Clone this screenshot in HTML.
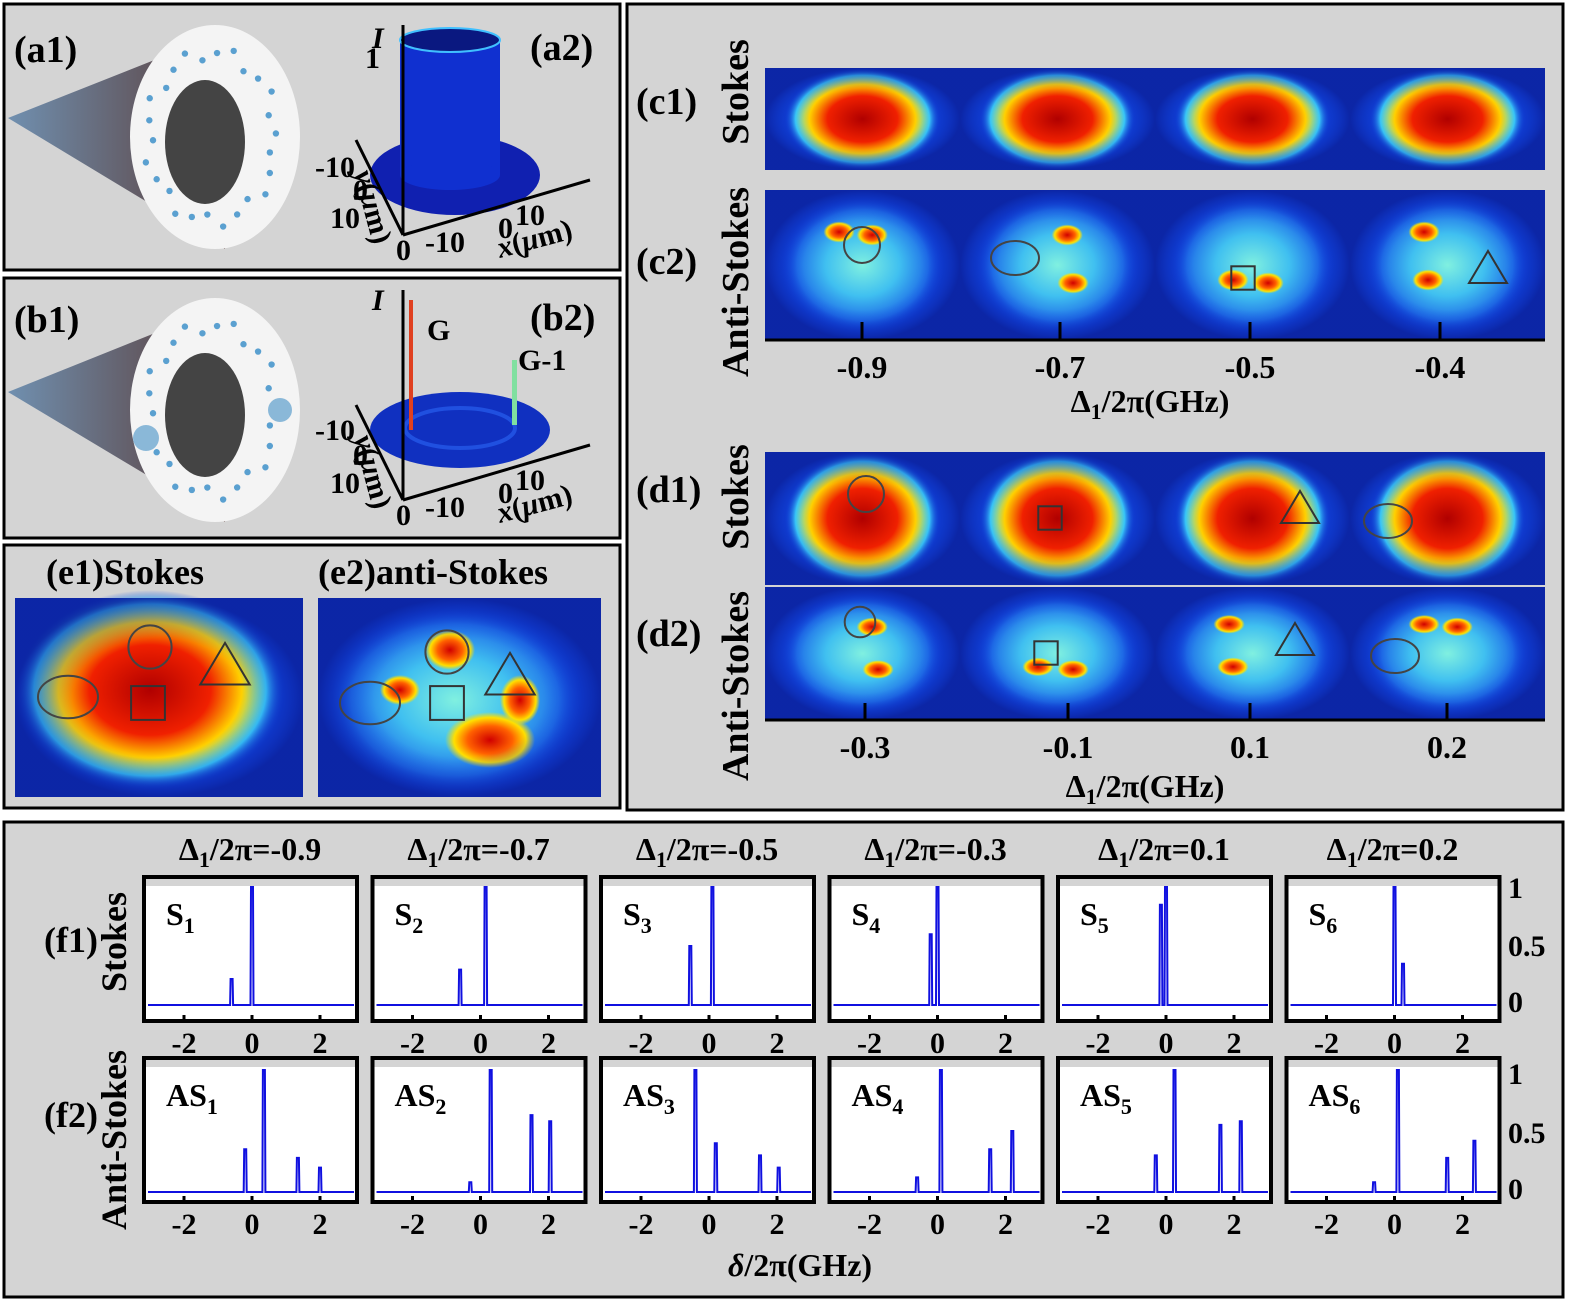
<!DOCTYPE html>
<html><head><meta charset="utf-8"><style>
html,body{margin:0;padding:0;background:#fff;}
svg{display:block;font-family:"Liberation Serif",serif;font-weight:bold;}
</style></head><body>
<svg id="s" width="1575" height="1304" viewBox="0 0 1575 1304" xmlns="http://www.w3.org/2000/svg">
<defs>
<radialGradient id="hs"><stop offset="0" stop-color="#b00000"/><stop offset="0.45" stop-color="#f02000"/><stop offset="0.68" stop-color="#ffd000"/><stop offset="0.86" stop-color="#40e0ff"/><stop offset="1" stop-color="#1040e0" stop-opacity="0"/></radialGradient>
<radialGradient id="ha"><stop offset="0" stop-color="#80f0e0"/><stop offset="0.45" stop-color="#40c0f0"/><stop offset="0.8" stop-color="#2070e8"/><stop offset="1" stop-color="#1040e0" stop-opacity="0"/></radialGradient>
<radialGradient id="hr"><stop offset="0" stop-color="#d00000"/><stop offset="0.5" stop-color="#ff6000"/><stop offset="0.8" stop-color="#ffe000"/><stop offset="1" stop-color="#ffe000" stop-opacity="0"/></radialGradient>
<radialGradient id="hb"><stop offset="0.6" stop-color="#1040e0" stop-opacity="0"/><stop offset="1" stop-color="#0a1a90"/></radialGradient>
<linearGradient id="cone" x1="0" y1="0" x2="1" y2="0"><stop offset="0" stop-color="#7090b0"/><stop offset="1" stop-color="#5a3a35"/></linearGradient>
</defs>
<rect width="1575" height="1304" fill="#fff"/>
<g fill="#d4d4d4" stroke="#000" stroke-width="3">
<rect x="4" y="4" width="616" height="266"/>
<rect x="4" y="278" width="616" height="260"/>
<rect x="4" y="545" width="616" height="263"/>
<rect x="627" y="4" width="936" height="806"/>
<rect x="4" y="822" width="1559" height="475"/>
</g>
<g id="dyn"></g>
</svg>
<script>
const g=document.getElementById('dyn');let h='';
function T(x,y,s,t,extra){h+=`<text x="${x}" y="${y}" font-size="${s}" ${extra||''}>${t}</text>`;}
function cone(y0,cy){
 h+=`<polygon points="8,${y0} 225,${cy-105} 225,${cy+112}" fill="url(#cone)"/>`;
 h+=`<ellipse cx="215" cy="${cy}" rx="85" ry="112" fill="#f4f4f4"/>`;
 h+=`<ellipse cx="205" cy="${cy+5}" rx="40" ry="62" fill="#444"/>`;
 for(let i=0;i<26;i++){const a=i/26*6.283+0.2;const r=0.72+0.12*((i*7)%3)/2;h+=`<circle cx="${212+82*r*Math.cos(a)}" cy="${cy+108*r*Math.sin(a)}" r="3.2" fill="#5aa0d0"/>`;}
}
cone(118,137);cone(392,410);
T(14,62,38,'(a1)');T(530,60,38,'(a2)');T(14,332,38,'(b1)');T(530,330,38,'(b2)');
h+=`<ellipse cx="455" cy="175" rx="85" ry="40" fill="#1020b0"/><rect x="400" y="40" width="100" height="135" fill="#1030d0"/><ellipse cx="450" cy="175" rx="50" ry="15" fill="#1030d0"/><ellipse cx="450" cy="40" rx="50" ry="12" fill="#0a1880" stroke="#40c0ff" stroke-width="2"/>`;
function axes(y0){h+=`<g stroke="#000" stroke-width="3" fill="none"><line x1="403" y1="${y0}" x2="403" y2="${y0-210}"/><line x1="403" y1="${y0}" x2="590" y2="${y0-55}"/><line x1="403" y1="${y0}" x2="356" y2="${y0-95}"/></g>`;}
axes(235);
T(372,48,30,'I','font-style="italic"');T(365,68,30,'1');T(315,177,30,'-10');T(353,200,30,'0');T(330,228,30,'10');T(396,260,30,'0');T(425,252,30,'-10');T(498,238,30,'0');T(515,225,30,'10');
T(500,258,30,'<tspan font-style="italic">x</tspan>(<tspan font-style="italic">μ</tspan>m)','transform="rotate(-15 500 258)"');
T(310,170,30,'<tspan font-style="italic">y</tspan>(<tspan font-style="italic">μ</tspan>m)','transform="rotate(75 330 200)"');
h+=`<ellipse cx="460" cy="430" rx="90" ry="38" fill="#1030c0"/><ellipse cx="460" cy="428" rx="55" ry="20" fill="none" stroke="#2050e0" stroke-width="4"/><rect x="409" y="300" width="4" height="130" fill="#e04020"/><rect x="512" y="360" width="5" height="65" fill="#80e0a0"/>`;
axes(500);
T(372,310,30,'I','font-style="italic"');T(427,340,30,'G');T(518,370,30,'G-1');T(315,440,30,'-10');T(353,465,30,'0');T(330,493,30,'10');T(396,525,30,'0');T(425,517,30,'-10');T(498,503,30,'0');T(515,490,30,'10');
T(500,523,30,'<tspan font-style="italic">x</tspan>(<tspan font-style="italic">μ</tspan>m)','transform="rotate(-15 500 523)"');
T(310,435,30,'<tspan font-style="italic">y</tspan>(<tspan font-style="italic">μ</tspan>m)','transform="rotate(75 330 465)"');
h+=`<circle cx="146" cy="438" r="13" fill="#8ab8d8"/><circle cx="280" cy="410" r="12" fill="#8ab8d8"/>`;
function tile(x,y,w,hh,type,seed){
 h+=`<rect x="${x}" y="${y}" width="${w}" height="${hh}" fill="#1040d8"/>`;
 const cx=x+w/2,cy=y+hh/2;
 if(type=='s'){h+=`<ellipse cx="${cx}" cy="${cy}" rx="${w*0.4}" ry="${hh*0.5}" fill="url(#hs)"/>`;}
 else{h+=`<ellipse cx="${cx}" cy="${cy}" rx="${w*0.42}" ry="${hh*0.46}" fill="url(#ha)"/>`;
  const px=[[-.12,-.22],[.05,-.2],[.08,.12],[-.1,.1]];
  for(let i=0;i<2;i++){const p=px[(i+seed)%4];h+=`<ellipse cx="${cx+p[0]*w}" cy="${cy+p[1]*hh}" rx="${w*0.08}" ry="${hh*0.07}" fill="url(#hr)"/>`;}}
 h+=`<rect x="${x}" y="${y}" width="${w}" height="${hh}" fill="url(#hb)" opacity="0.7"/>`;
}
function shp(kind,x,y,s){s=s||1;
 if(kind=='c')h+=`<circle cx="${x}" cy="${y}" r="${18*s}" fill="none" stroke="#444" stroke-width="2"/>`;
 if(kind=='e')h+=`<ellipse cx="${x}" cy="${y}" rx="${24*s}" ry="${17*s}" fill="none" stroke="#444" stroke-width="2"/>`;
 if(kind=='r')h+=`<rect x="${x-13*s}" y="${y-13*s}" width="${26*s}" height="${26*s}" fill="none" stroke="#333" stroke-width="2"/>`;
 if(kind=='t')h+=`<polygon points="${x},${y-17*s} ${x+19*s},${y+15*s} ${x-19*s},${y+15*s}" fill="none" stroke="#333" stroke-width="2"/>`;
}
const tx=[765,960,1155,1350];
for(let i=0;i<4;i++){tile(tx[i],68,195,102,'s',0);tile(tx[i],190,195,150,'a',i);tile(tx[i],452,195,133,'s',0);tile(tx[i],587,195,133,'a',i+1);}
shp('c',862,245);shp('e',1015,258);shp('r',1243,278,0.9);shp('t',1488,268);
shp('c',866,494);shp('r',1050,518,0.9);shp('t',1300,508);shp('e',1388,521);
shp('c',860,622,0.85);shp('r',1046,653,0.9);shp('t',1295,640);shp('e',1395,656);
h+=`<g stroke="#000" stroke-width="3"><line x1="765" y1="340" x2="1545" y2="340"/><line x1="765" y1="720" x2="1545" y2="720"/>`;
[862,1060,1250,1440].forEach(x=>h+=`<line x1="${x}" y1="322" x2="${x}" y2="340"/>`);
[865,1068,1250,1447].forEach(x=>h+=`<line x1="${x}" y1="703" x2="${x}" y2="720"/>`);h+='</g>';
[['-0.9',862],['-0.7',1060],['-0.5',1250],['-0.4',1440]].forEach(a=>T(a[1],378,32,a[0],'text-anchor="middle"'));
[['-0.3',865],['-0.1',1068],['0.1',1250],['0.2',1447]].forEach(a=>T(a[1],758,32,a[0],'text-anchor="middle"'));
T(1150,412,32,'Δ<tspan font-size="22" dy="7">1</tspan><tspan dy="-7">/2π(GHz)</tspan>','text-anchor="middle"');
T(1145,797,32,'Δ<tspan font-size="22" dy="7">1</tspan><tspan dy="-7">/2π(GHz)</tspan>','text-anchor="middle"');
T(636,114,38,'(c1)');T(636,274,38,'(c2)');T(636,502,38,'(d1)');T(636,646,38,'(d2)');
function vt(x,y,t,s){T(x,y,s||38,t,`text-anchor="middle" transform="rotate(-90 ${x} ${y})"`);}
vt(748,92,'Stokes');vt(748,282,'Anti-Stokes');vt(748,497,'Stokes');vt(748,686,'Anti-Stokes');
h+=`<rect x="15" y="598" width="288" height="199" fill="#1040d8"/><ellipse cx="150" cy="690" rx="135" ry="100" fill="url(#hs)"/><rect x="15" y="598" width="288" height="199" fill="url(#hb)" opacity="0.7"/>`;
h+=`<rect x="318" y="598" width="283" height="199" fill="#1040d8"/><ellipse cx="455" cy="700" rx="130" ry="95" fill="url(#ha)"/><ellipse cx="450" cy="650" rx="25" ry="20" fill="url(#hr)"/><ellipse cx="490" cy="740" rx="45" ry="28" fill="url(#hr)"/><ellipse cx="400" cy="690" rx="20" ry="15" fill="url(#hr)"/><ellipse cx="520" cy="700" rx="20" ry="25" fill="url(#hr)"/><rect x="318" y="598" width="283" height="199" fill="url(#hb)" opacity="0.7"/>`;
shp('c',150,647,1.2);shp('r',148,703,1.3);shp('t',225,665,1.3);shp('e',68,697,1.25);
shp('c',447,652,1.2);shp('r',447,703,1.3);shp('t',510,675,1.3);shp('e',370,703,1.25);
T(46,584,36,'(e1)Stokes');T(318,584,36,'(e2)anti-Stokes');
const ttl=['-0.9','-0.7','-0.5','-0.3','0.1','0.2'];
const P1=[[[-0.6,.22],[0,1]],[[-0.6,.3],[0.15,1]],[[-0.55,.5],[0.1,1]],[[-0.2,.6],[0,1]],[[-0.15,.85],[0,1]],[[0,1],[0.25,.35]]];
const P2=[[[-0.2,.35],[0.35,1],[1.35,.28],[2,.2]],[[-0.3,.08],[0.3,1],[1.5,.63],[2.05,.58]],[[-0.4,1],[0.2,.4],[1.5,.3],[2.05,.2]],[[-0.6,.12],[0.1,1],[1.55,.35],[2.2,.5]],[[-0.3,.3],[0.25,1],[1.6,.55],[2.2,.58]],[[-0.6,.08],[0.1,1],[1.55,.28],[2.35,.42]]];
function plot(x0,y0,y1,base,top,peaks,lab){
 h+=`<rect x="${x0}" y="${y0}" width="213" height="${y1-y0}" fill="#fff"/><rect x="${x0}" y="${y0}" width="213" height="9" fill="#d4d4d4"/>`;
 const zx=x0+108,k=34,L=base-top;
 let d=`M${x0+4},${base}`;
 peaks.sort((a,b)=>a[0]-b[0]).forEach(p=>{const px=zx+p[0]*k;d+=` L${px-1.5},${base} L${px-1},${base-p[1]*L} L${px+1},${base-p[1]*L} L${px+1.5},${base}`;});
 d+=` L${x0+210},${base}`;
 h+=`<path d="${d}" fill="none" stroke="#1010e0" stroke-width="2"/>`;
 h+=`<rect x="${x0}" y="${y0}" width="213" height="${y1-y0}" fill="none" stroke="#000" stroke-width="4"/>`;
 [-2,0,2].forEach(v=>{const px=zx+v*k;h+=`<line x1="${px}" y1="${y1}" x2="${px}" y2="${y1-6}" stroke="#000" stroke-width="3"/>`;T(px,y1+32,30,v==-2?'-2':v,'text-anchor="middle"');});
 T(x0+22,y0+48,32,lab);
}
for(let i=0;i<6;i++){const x0=144+i*228.5;
 T(x0+106,860,32,'Δ<tspan font-size="22" dy="7">1</tspan><tspan dy="-7">/2π=</tspan>'+ttl[i],'text-anchor="middle"');
 plot(x0,877,1021,1005,887,P1[i],`S<tspan font-size="22" dy="8">${i+1}</tspan>`);
 plot(x0,1058,1202,1192,1070,P2[i],`AS<tspan font-size="22" dy="8">${i+1}</tspan>`);
}
[['1',898],['0.5',956],['0',1012]].forEach(a=>T(1508,a[1],30,a[0]));
[['1',1084],['0.5',1143],['0',1199]].forEach(a=>T(1508,a[1],30,a[0]));
T(800,1276,32,'<tspan font-style="italic">δ</tspan>/2π(GHz)','text-anchor="middle"');
T(44,952,36,'(f1)');T(44,1127,36,'(f2)');
vt(126,942,'Stokes',36);vt(126,1140,'Anti-Stokes',36);
g.innerHTML=h;
</script>
</body></html>
